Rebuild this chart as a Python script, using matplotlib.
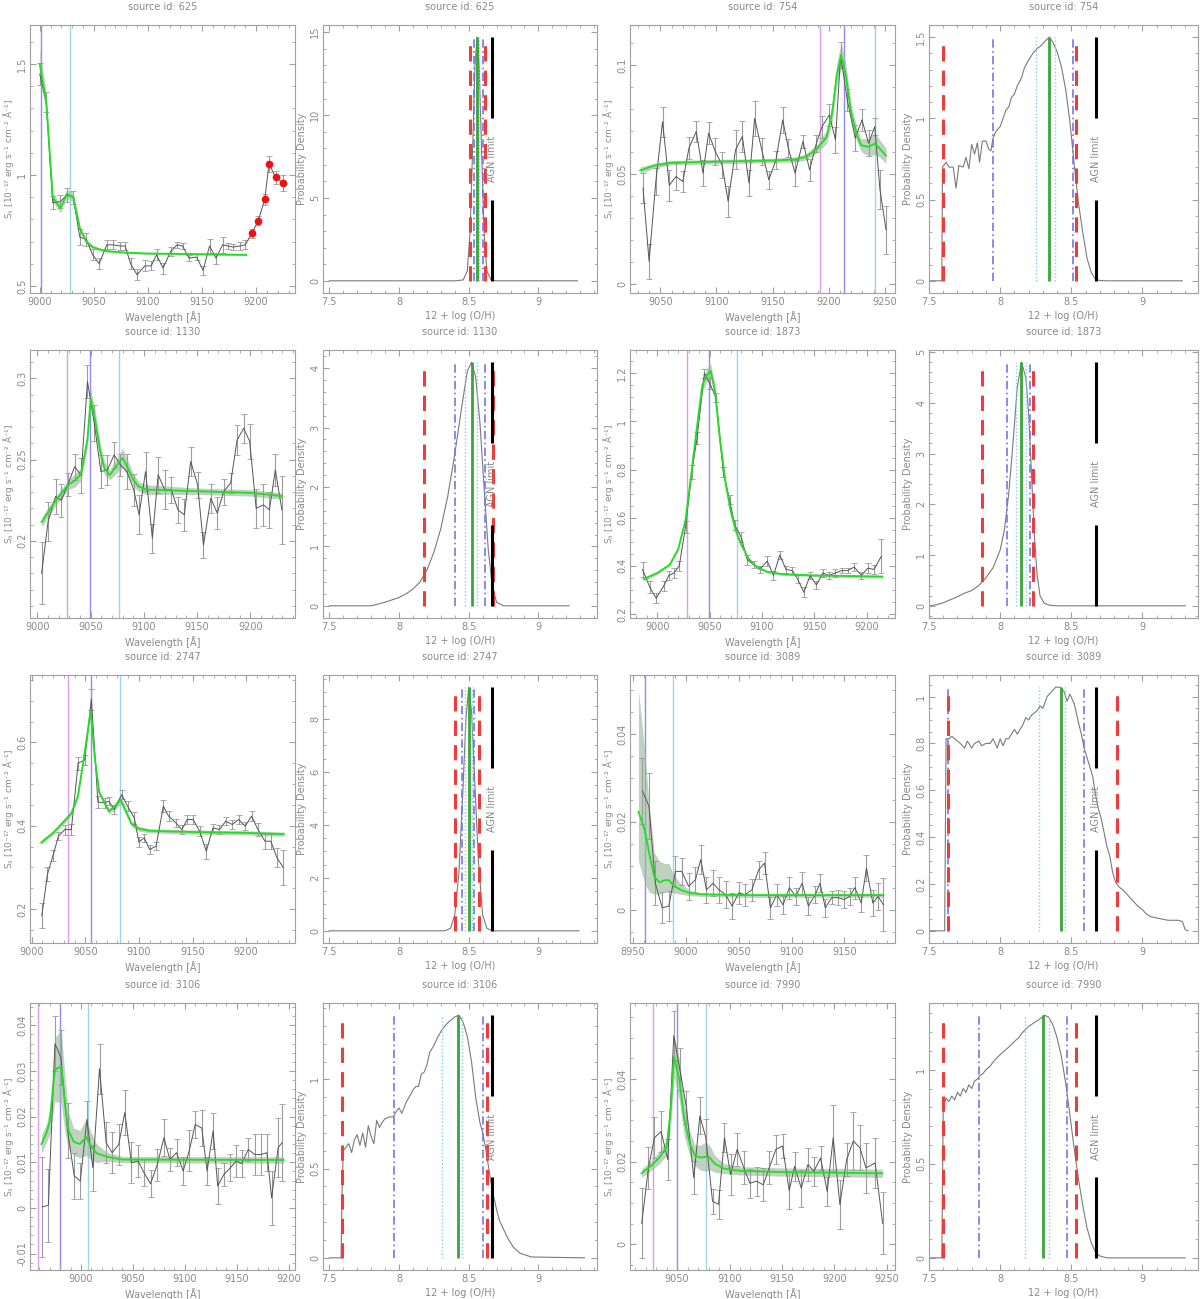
import numpy as np
import matplotlib.pyplot as plt
from matplotlib.ticker import MultipleLocator, AutoMinorLocator, FormatStrFormatter

# ---------------- source 625 ----------------
wl_625 = [9000, 9006, 9012, 9019, 9025, 9031, 9037, 9043, 9049, 9055, 9062, 9068, 9074, 9079, 9084, 9090, 9097, 9103,
          9108, 9114, 9121, 9127, 9132, 9138, 9145, 9151, 9157, 9163, 9169, 9174, 9179, 9185, 9190, 9196, 9202, 9208,
          9212, 9218, 9225]
flux_625 = [1.455, 1.33, 0.875, 0.88, 0.91, 0.90, 0.72, 0.71, 0.64, 0.60, 0.685, 0.685, 0.68, 0.68, 0.60, 0.55, 0.59,
            0.59, 0.64, 0.58, 0.655, 0.685, 0.68, 0.625, 0.63, 0.57, 0.68, 0.625, 0.685, 0.68, 0.675, 0.68, 0.685,
            0.737, 0.794, 0.89, 1.05, 0.99, 0.965]
err_625 = [0.05, 0.045, 0.03, 0.03, 0.03, 0.03, 0.035, 0.03, 0.025, 0.025, 0.02, 0.02, 0.02, 0.02, 0.025, 0.025, 0.025,
           0.02, 0.025, 0.025, 0.02, 0.015, 0.015, 0.015, 0.015, 0.02, 0.03, 0.025, 0.035, 0.015, 0.015, 0.02, 0.02,
           0.02, 0.02, 0.025, 0.035, 0.03, 0.035]
bad_625 = [33, 34, 35, 36, 37, 38]
model_wl_625 = [9000, 9006, 9012, 9019, 9025, 9031, 9037, 9043, 9049, 9055, 9062, 9080, 9100, 9150, 9191]
model_625 = [1.50, 1.33, 0.90, 0.85, 0.915, 0.90, 0.76, 0.70, 0.675, 0.665, 0.657, 0.650, 0.646, 0.643, 0.640]
band_625 = [0.07, 0.04, 0.02, 0.02, 0.02, 0.02, 0.015, 0.01, 0.008, 0.006, 0.005, 0.004, 0.004, 0.004, 0.004]
lines_625 = [None, 9001, 9028]
pdf_x_625 = [7.50, 8.40, 8.46, 8.49, 8.51, 8.53, 8.545, 8.56, 8.575, 8.59, 8.61, 8.63, 8.66, 8.70, 9.28]
pdf_y_625 = [0, 0, 0.05, 0.6, 3.0, 8.5, 13.0, 14.7, 13.0, 8.5, 3.0, 0.6, 0.05, 0, 0]
# best, dotted lo/hi, dash-dot lo/hi, dashed lo/hi
oh_625 = [8.563, 8.55, 8.575, 8.535, 8.60, 8.51, 8.615]

# ---------------- source 754 ----------------
wl_754 = [9034.6, 9040, 9046, 9052, 9058, 9064, 9070, 9075.5, 9082, 9088, 9093, 9099, 9105, 9110.4, 9117, 9123, 9129,
          9134, 9140.7, 9146.6, 9153, 9159, 9164, 9170, 9177, 9183, 9189, 9194, 9200.5, 9206, 9210.6, 9216.5, 9223.6,
          9229.6, 9235.5, 9241, 9245.6, 9251]
flux_754 = [0.0437, 0.0102, 0.0467, 0.074, 0.045, 0.049, 0.0467, 0.062, 0.0696, 0.0505, 0.0688, 0.0604, 0.0543, 0.0376,
            0.0612, 0.0673, 0.046, 0.0756, 0.0604, 0.0475, 0.0566, 0.0749, 0.062, 0.0505, 0.065, 0.052, 0.0642, 0.0718,
            0.0772, 0.0658, 0.1046, 0.084, 0.0665, 0.0749, 0.0642, 0.0718, 0.0429, 0.0247]
err_754 = [0.007, 0.008, 0.006, 0.007, 0.007, 0.006, 0.005, 0.005, 0.005, 0.006, 0.005, 0.006, 0.006, 0.007, 0.009,
           0.007, 0.006, 0.008, 0.006, 0.004, 0.004, 0.006, 0.004, 0.006, 0.003, 0.005, 0.004, 0.005, 0.005, 0.006,
           0.006, 0.005, 0.006, 0.005, 0.006, 0.004, 0.009, 0.011]
model_wl_754 = [9032, 9045, 9060, 9100, 9150, 9170, 9180, 9190, 9198, 9203, 9207, 9211, 9215, 9220, 9225, 9229, 9235,
                9241, 9245, 9251]
model_754 = [0.0518, 0.054, 0.0553, 0.0558, 0.0563, 0.0568, 0.058, 0.062, 0.067, 0.078, 0.095, 0.1045, 0.096, 0.078,
             0.068, 0.0633, 0.0625, 0.064, 0.062, 0.0585]
band_754 = [0.0015, 0.0012, 0.001, 0.001, 0.001, 0.0012, 0.0015, 0.002, 0.003, 0.004, 0.005, 0.006, 0.005, 0.004,
            0.003, 0.003, 0.004, 0.005, 0.004, 0.0035]
lines_754 = [9192.2, 9213.9, 9241.4]
pdf_x_754 = [7.50, 7.59, 7.595, 7.62, 7.64, 7.67, 7.69, 7.71, 7.74, 7.76, 7.78, 7.80, 7.82, 7.84, 7.855, 7.875, 7.90,
             7.92, 7.935, 7.95, 7.97, 8.00, 8.02, 8.04, 8.06, 8.08, 8.10, 8.12, 8.15, 8.17, 8.20, 8.23, 8.26, 8.29,
             8.32, 8.345, 8.37, 8.40, 8.43, 8.46, 8.49, 8.52, 8.55, 8.58, 8.61, 8.64, 8.67, 8.70, 8.75, 9.28]
pdf_y_754 = [0, 0, 0.70, 0.73, 0.70, 0.70, 0.57, 0.71, 0.70, 0.76, 0.69, 0.84, 0.78, 0.85, 0.73, 0.86, 0.86, 0.81,
             0.80, 0.88, 0.92, 0.95, 1.00, 1.05, 1.07, 1.13, 1.15, 1.20, 1.25, 1.31, 1.36, 1.40, 1.43, 1.45, 1.48,
             1.50, 1.47, 1.41, 1.32, 1.18, 0.98, 0.72, 0.48, 0.30, 0.14, 0.05, 0.01, 0.002, 0, 0]
oh_754 = [8.345, 8.25, 8.385, 7.95, 8.515, 7.595, 8.53]

# ---------------- source 1130 ----------------
wl_1130 = [9003.9, 9010, 9017, 9022.5, 9028.7, 9035, 9041, 9047, 9053.4, 9059.6, 9065.8, 9072, 9078, 9084, 9090.5,
           9095.5, 9101.6, 9108, 9113.4, 9119.6, 9125.8, 9132, 9138, 9144, 9150.5, 9156, 9162.9, 9169, 9175, 9181.5,
           9187.6, 9193.8, 9199.4, 9205.5, 9212.4, 9218, 9223.5, 9229.7]
flux_1130 = [0.180, 0.2119, 0.2273, 0.2248, 0.2348, 0.2457, 0.2402, 0.298, 0.2723, 0.2426, 0.2436, 0.2529, 0.2467,
             0.2426, 0.2314, 0.216, 0.2426, 0.2016, 0.2406, 0.2314, 0.2314, 0.219, 0.216, 0.2488, 0.2344, 0.1975,
             0.2262, 0.217, 0.2303, 0.2355, 0.262, 0.2693, 0.2611, 0.220, 0.2221, 0.219, 0.2436, 0.219]
err_1130 = [0.019, 0.012, 0.011, 0.01, 0.007, 0.008, 0.011, 0.01, 0.011, 0.01, 0.009, 0.008, 0.007, 0.011, 0.01, 0.012,
            0.012, 0.009, 0.011, 0.012, 0.008, 0.008, 0.01, 0.009, 0.008, 0.008, 0.009, 0.01, 0.008, 0.006, 0.009,
            0.009, 0.011, 0.012, 0.013, 0.011, 0.01, 0.021]
model_wl_1130 = [9004, 9017, 9029, 9035, 9041, 9047, 9050, 9054, 9059, 9063, 9068, 9072, 9077, 9080, 9084, 9090, 9095,
                 9102, 9150, 9200, 9230]
model_1130 = [0.2115, 0.2245, 0.2345, 0.237, 0.241, 0.2625, 0.2875, 0.275, 0.255, 0.2445, 0.2405, 0.244, 0.2485, 0.251,
              0.246, 0.2375, 0.2335, 0.2315, 0.2305, 0.2295, 0.2275]
band_1130 = [0.003, 0.003, 0.003, 0.004, 0.004, 0.005, 0.006, 0.006, 0.005, 0.004, 0.003, 0.004, 0.005, 0.006, 0.005,
             0.004, 0.003, 0.003, 0.002, 0.002, 0.002]
lines_1130 = [9027.7, 9049.4, 9076.9]
pdf_x_1130 = [7.50, 7.80, 7.85, 7.90, 7.95, 8.00, 8.05, 8.10, 8.15, 8.20, 8.25, 8.30, 8.35, 8.40, 8.45, 8.49, 8.52,
              8.55, 8.58, 8.61, 8.64, 8.67, 8.70, 8.75, 9.22]
pdf_y_1130 = [0, 0, 0.03, 0.06, 0.10, 0.14, 0.20, 0.28, 0.40, 0.60, 0.90, 1.30, 1.85, 2.55, 3.35, 3.95, 4.10, 3.85,
              3.10, 2.00, 0.95, 0.30, 0.06, 0, 0]
oh_1130 = [8.52, 8.475, 8.56, 8.40, 8.615, 8.18, 8.675]

# ---------------- source 1873 ----------------
wl_1873 = [8986, 8993, 8999, 9006, 9011, 9016, 9021, 9027, 9033, 9038, 9045, 9050, 9056, 9063, 9069, 9074, 9080, 9086,
           9092, 9098, 9105, 9111, 9117, 9123, 9129, 9134, 9140, 9146, 9152, 9158, 9164, 9170, 9176, 9182, 9188, 9195,
           9201, 9207, 9214]
flux_1873 = [0.385, 0.31, 0.265, 0.315, 0.36, 0.37, 0.40, 0.56, 0.79, 0.93, 1.20, 1.16, 1.10, 0.79, 0.675, 0.57, 0.52,
             0.425, 0.405, 0.385, 0.42, 0.36, 0.445, 0.385, 0.38, 0.345, 0.29, 0.36, 0.32, 0.37, 0.36, 0.37, 0.38,
             0.38, 0.395, 0.36, 0.39, 0.385, 0.44]
err_1873 = [0.03, 0.025, 0.02, 0.02, 0.02, 0.02, 0.02, 0.025, 0.03, 0.025, 0.02, 0.025, 0.02, 0.02, 0.02, 0.02, 0.02,
            0.02, 0.015, 0.015, 0.02, 0.02, 0.015, 0.015, 0.015, 0.015, 0.02, 0.015, 0.015, 0.015, 0.015, 0.015,
            0.012, 0.012, 0.015, 0.015, 0.02, 0.02, 0.07]
model_wl_1873 = [8987, 9000, 9012, 9020, 9027, 9033, 9038, 9043, 9047, 9051, 9055, 9060, 9065, 9070, 9075, 9080, 9087,
                 9095, 9105, 9120, 9150, 9215]
model_1873 = [0.345, 0.37, 0.405, 0.47, 0.59, 0.80, 0.98, 1.15, 1.19, 1.21, 1.13, 0.92, 0.75, 0.63, 0.545, 0.49, 0.43,
              0.395, 0.375, 0.365, 0.36, 0.355]
band_1873 = [0.008, 0.006, 0.006, 0.008, 0.01, 0.015, 0.02, 0.025, 0.03, 0.03, 0.025, 0.02, 0.015, 0.012, 0.01, 0.01,
             0.008, 0.006, 0.005, 0.005, 0.005, 0.006]
lines_1873 = [9028.2, 9049.5, 9076.5]
pdf_x_1873 = [7.50, 7.55, 7.60, 7.65, 7.70, 7.75, 7.80, 7.85, 7.90, 7.95, 8.00, 8.03, 8.06, 8.09, 8.12, 8.15, 8.18,
              8.20, 8.22, 8.24, 8.26, 8.28, 8.31, 8.35, 8.40, 9.30]
pdf_y_1873 = [0, 0.02, 0.06, 0.12, 0.18, 0.25, 0.30, 0.40, 0.55, 0.75, 1.10, 1.50, 2.20, 3.20, 4.30, 4.80, 4.50, 3.80,
              2.60, 1.40, 0.60, 0.20, 0.05, 0.01, 0, 0]
oh_1873 = [8.145, 8.11, 8.18, 8.05, 8.21, 7.87, 8.23]

# ---------------- source 2747 ----------------
wl_2747 = [9009.5, 9014.8, 9020, 9025, 9031, 9037, 9043.4, 9049.5, 9055.7, 9061.8, 9068, 9072, 9077, 9084, 9089.4,
           9095.7, 9100, 9105, 9110, 9116, 9122.8, 9127.7, 9134.5, 9140, 9145, 9150.5, 9156.6, 9162.8, 9169, 9175,
           9181, 9187, 9193, 9199, 9205, 9211, 9217.5, 9223, 9228.6, 9234.6]
flux_2747 = [0.184, 0.284, 0.329, 0.375, 0.391, 0.391, 0.55, 0.558, 0.704, 0.457, 0.455, 0.459, 0.439, 0.475, 0.447,
             0.419, 0.361, 0.371, 0.343, 0.351, 0.447, 0.423, 0.407, 0.391, 0.415, 0.415, 0.387, 0.339, 0.395, 0.391,
             0.411, 0.403, 0.415, 0.399, 0.423, 0.391, 0.363, 0.363, 0.3235, 0.2996]
err_2747 = [0.03, 0.017, 0.013, 0.01, 0.012, 0.013, 0.015, 0.012, 0.025, 0.015, 0.012, 0.01, 0.01, 0.01, 0.012, 0.015,
            0.012, 0.01, 0.01, 0.01, 0.015, 0.012, 0.01, 0.01, 0.01, 0.01, 0.012, 0.018, 0.01, 0.01, 0.01, 0.01, 0.01,
            0.01, 0.012, 0.015, 0.018, 0.018, 0.023, 0.042]
model_wl_2747 = [9009, 9020, 9030, 9037, 9043, 9048, 9055, 9059, 9063, 9068, 9072, 9077, 9083, 9087, 9093, 9100, 9110,
                 9150, 9200, 9235]
model_2747 = [0.36, 0.383, 0.41, 0.43, 0.47, 0.55, 0.675, 0.56, 0.48, 0.455, 0.435, 0.445, 0.462, 0.44, 0.405, 0.393,
              0.388, 0.385, 0.383, 0.38]
band_2747 = [0.005, 0.005, 0.006, 0.006, 0.007, 0.008, 0.01, 0.008, 0.007, 0.007, 0.007, 0.008, 0.01, 0.009, 0.007,
             0.006, 0.005, 0.005, 0.005, 0.005]
lines_2747 = [9033.8, 9055.4, 9082.8]
pdf_x_2747 = [7.50, 8.33, 8.37, 8.40, 8.43, 8.46, 8.48, 8.50, 8.52, 8.54, 8.57, 8.60, 8.63, 8.67, 9.29]
pdf_y_2747 = [0, 0, 0.1, 0.6, 2.2, 5.5, 8.0, 9.2, 8.3, 6.0, 2.6, 0.6, 0.1, 0, 0]
oh_2747 = [8.50, 8.47, 8.52, 8.45, 8.54, 8.405, 8.575]

# ---------------- source 3089 ----------------
wl_3089 = [8958.75, 8965, 8971, 8977.5, 8983.75, 8990, 8996, 9002.5, 9009, 9014, 9019.4, 9025.6, 9031.25, 9037.5,
           9043.75, 9050, 9056, 9062.5, 9068.75, 9074.4, 9080, 9086, 9091.9, 9098, 9104, 9110, 9116, 9122.5, 9127,
           9132, 9138, 9144, 9150, 9155, 9160, 9166, 9171, 9177, 9182, 9187]
flux_3089 = [0.027, 0.0235, 0.006, 0.0004, 0.0008, 0.0087, 0.0087, 0.0053, 0.0068, 0.0114, 0.0045, 0.006, 0.0045,
             0.0034, 0.0008, 0.0038, 0.0034, 0.0045, 0.009, 0.0106, 0.0004, 0.0034, 0.0011, 0.005, 0.003, 0.006,
             0.0008, 0.0034, 0.006, 0.0004, 0.0027, 0.0027, 0.0023, 0.003, 0.005, 0.0015, 0.0095, 0.0015, 0.003,
             0.0011]
err_3089 = [0.0075, 0.0075, 0.005, 0.0035, 0.0035, 0.0035, 0.003, 0.003, 0.003, 0.0033, 0.003, 0.003, 0.003, 0.003,
            0.003, 0.0025, 0.0025, 0.0025, 0.002, 0.0025, 0.0025, 0.0025, 0.002, 0.0025, 0.002, 0.0025, 0.002, 0.002,
            0.002, 0.002, 0.0015, 0.0017, 0.002, 0.002, 0.0025, 0.002, 0.003, 0.003, 0.003, 0.006]
model_wl_3089 = [8955, 8961, 8965, 8970, 8975, 8980, 8984, 8988, 8995, 9003, 9015, 9050, 9187]
model_3089 = [0.0223, 0.018, 0.013, 0.0075, 0.0062, 0.0067, 0.0067, 0.0055, 0.0045, 0.0038, 0.0035, 0.0033, 0.0033]
band_lo_3089 = [0.011, 0.006, 0.004, 0.0035, 0.0035, 0.004, 0.004, 0.0038, 0.0035, 0.0032, 0.003, 0.0028, 0.0028]
band_hi_3089 = [0.05, 0.036, 0.024, 0.013, 0.011, 0.0105, 0.0105, 0.008, 0.006, 0.0045, 0.0038, 0.0037, 0.0037]
lines_3089 = [None, 8961, 8987.5]
pdf_x_3089 = [7.50, 7.61, 7.62, 7.64, 7.66, 7.68, 7.70, 7.72, 7.75, 7.77, 7.80, 7.82, 7.85, 7.87, 7.90, 7.93, 7.95,
              7.98, 8.00, 8.02, 8.04, 8.06, 8.08, 8.10, 8.12, 8.14, 8.16, 8.18, 8.20, 8.22, 8.24, 8.26, 8.28, 8.30,
              8.33, 8.36, 8.39, 8.42, 8.45, 8.47, 8.49, 8.52, 8.55, 8.57, 8.59, 8.61, 8.63, 8.65, 8.67, 8.69, 8.71,
              8.73, 8.75, 8.77, 8.79, 8.81, 8.83, 8.85, 8.87, 8.90, 8.93, 8.96, 9.00, 9.03, 9.06, 9.10, 9.14, 9.18,
              9.22, 9.25, 9.28, 9.30, 9.32]
pdf_y_3089 = [0, 0, 0.82, 0.82, 0.83, 0.82, 0.81, 0.80, 0.78, 0.81, 0.78, 0.80, 0.81, 0.79, 0.80, 0.80, 0.82, 0.78,
              0.82, 0.79, 0.82, 0.82, 0.84, 0.86, 0.84, 0.86, 0.88, 0.91, 0.90, 0.92, 0.93, 0.94, 0.96, 0.95, 1.00,
              1.02, 1.04, 1.04, 1.02, 0.98, 1.01, 0.97, 0.89, 0.84, 0.78, 0.74, 0.70, 0.66, 0.58, 0.52, 0.48, 0.42,
              0.36, 0.32, 0.25, 0.21, 0.19, 0.18, 0.17, 0.15, 0.13, 0.11, 0.09, 0.07, 0.06, 0.055, 0.05, 0.045, 0.045,
              0.045, 0.04, 0.005, 0]
oh_3089 = [8.43, 8.27, 8.455, 7.63, 8.59, 7.63, 8.82]

# ---------------- source 3106 ----------------
wl_3106 = [8962.9, 8968.7, 8975, 8980.8, 8987.2, 8993.6, 8999.4, 9005.75, 9011.5, 9017.9, 9024.3, 9030, 9036.4, 9042.2,
           9048.6, 9055, 9060.7, 9067, 9073.5, 9079.9, 9085.6, 9092, 9098.4, 9104.2, 9110, 9116.3, 9121.4, 9127.2,
           9131.6, 9137.4, 9143.8, 9149.5, 9154.6, 9161, 9167.4, 9173.2, 9179, 9183.5, 9189.8, 9193.6]
flux_3106 = [0.0002, 0.0006, 0.036, 0.0329, 0.0169, 0.007, 0.0059, 0.0194, 0.0088, 0.0305, 0.0143, 0.0121, 0.0139,
             0.0209, 0.0099, 0.0103, 0.0077, 0.0053, 0.0095, 0.0154, 0.0106, 0.0121, 0.0081, 0.0125, 0.0183, 0.0175,
             0.0081, 0.0169, 0.0048, 0.0073, 0.0088, 0.0103, 0.0097, 0.0128, 0.0117, 0.0117, 0.0121, 0.0022, 0.0132,
             0.0143]
err_3106 = [0.011, 0.008, 0.006, 0.006, 0.006, 0.005, 0.004, 0.004, 0.005, 0.0055, 0.0045, 0.0045, 0.0045, 0.005,
            0.0045, 0.0035, 0.003, 0.003, 0.0035, 0.004, 0.0025, 0.003, 0.003, 0.0045, 0.003, 0.004, 0.003, 0.004,
            0.004, 0.0025, 0.003, 0.0035, 0.003, 0.0025, 0.0045, 0.0045, 0.004, 0.006, 0.0065, 0.0085]
model_wl_3106 = [8962, 8967, 8970, 8975, 8981, 8985, 8988, 8993, 8999, 9005, 9010, 9015, 9025, 9040, 9195]
model_3106 = [0.014, 0.0165, 0.019, 0.0303, 0.031, 0.022, 0.017, 0.0145, 0.014, 0.0155, 0.0135, 0.012, 0.0112, 0.0106,
              0.0105]
band_3106 = [0.002, 0.002, 0.003, 0.007, 0.008, 0.006, 0.004, 0.003, 0.003, 0.004, 0.003, 0.002, 0.001, 0.0007, 0.0007]
lines_3106 = [8958.4, 8979.5, 9006.4]
pdf_x_3106 = [7.50, 7.585, 7.59, 7.60, 7.64, 7.66, 7.68, 7.70, 7.72, 7.74, 7.76, 7.78, 7.80, 7.82, 7.84, 7.86, 7.88,
              7.90, 7.93, 7.96, 7.98, 8.00, 8.02, 8.05, 8.08, 8.10, 8.12, 8.14, 8.16, 8.18, 8.20, 8.22, 8.25, 8.28,
              8.31, 8.34, 8.37, 8.40, 8.43, 8.46, 8.49, 8.52, 8.55, 8.58, 8.60, 8.62, 8.64, 8.66, 8.68, 8.70, 8.72,
              8.75, 8.78, 8.82, 8.87, 8.95, 9.33]
pdf_y_3106 = [0, 0, 0.30, 0.60, 0.64, 0.59, 0.66, 0.69, 0.63, 0.70, 0.62, 0.74, 0.68, 0.64, 0.77, 0.73, 0.76, 0.78,
              0.79, 0.79, 0.82, 0.84, 0.81, 0.87, 0.91, 0.94, 0.96, 0.96, 1.03, 1.04, 1.08, 1.15, 1.19, 1.24, 1.28,
              1.31, 1.33, 1.35, 1.36, 1.32, 1.24, 1.10, 0.90, 0.76, 0.70, 0.62, 0.52, 0.42, 0.34, 0.27, 0.21, 0.16,
              0.11, 0.06, 0.025, 0.005, 0]
oh_3106 = [8.42, 8.306, 8.455, 7.964, 8.60, 7.59, 8.63]

# ---------------- source 7990 ----------------
wl_7990 = [9016.2, 9022.6, 9028.3, 9034.7, 9041.1, 9046.8, 9052.5, 9058.9, 9065.9, 9071.7, 9077.4, 9083.8, 9089.5,
           9095.2, 9101, 9107.3, 9113.7, 9119.4, 9125.8, 9132.2, 9137.9, 9144.3, 9150.6, 9157, 9162.1, 9168.5,
           9174.8, 9180.6, 9186.9, 9193.3, 9199, 9205.4, 9211.8, 9218.2, 9224.5, 9230.3, 9239, 9246.2]
flux_7990 = [0.0051, 0.0185, 0.0258, 0.0273, 0.0205, 0.0505, 0.0424, 0.0331, 0.0161, 0.0311, 0.0258, 0.0104, 0.0097,
             0.0258, 0.0169, 0.023, 0.0185, 0.0148, 0.0153, 0.0144, 0.0185, 0.023, 0.0238, 0.013, 0.0189, 0.0136,
             0.0193, 0.0177, 0.0209, 0.0128, 0.0258, 0.0096, 0.0205, 0.025, 0.0234, 0.0185, 0.0197, 0.0051]
err_7990 = [0.0085, 0.005, 0.005, 0.005, 0.005, 0.006, 0.005, 0.004, 0.004, 0.0045, 0.0045, 0.003, 0.0035, 0.0035,
            0.005, 0.004, 0.004, 0.0035, 0.0035, 0.004, 0.004, 0.0035, 0.003, 0.0045, 0.0035, 0.0045, 0.004, 0.0035,
            0.003, 0.0035, 0.008, 0.006, 0.004, 0.007, 0.0055, 0.006, 0.006, 0.0075]
model_wl_7990 = [9016, 9025, 9033, 9040, 9044, 9047, 9052, 9057, 9062, 9067, 9072, 9077, 9081, 9086, 9095, 9110, 9150,
                 9246]
model_7990 = [0.0172, 0.019, 0.021, 0.0235, 0.033, 0.0455, 0.040, 0.030, 0.0245, 0.0215, 0.021, 0.0212, 0.021, 0.0195,
              0.0183, 0.0178, 0.0175, 0.0172]
band_7990 = [0.001, 0.0012, 0.0015, 0.002, 0.004, 0.005, 0.005, 0.004, 0.003, 0.0025, 0.003, 0.0035, 0.003, 0.002,
             0.0012, 0.001, 0.001, 0.001]
lines_7990 = [9027.4, 9050, 9077.4]
pdf_x_7990 = [7.50, 7.59, 7.60, 7.62, 7.64, 7.66, 7.68, 7.70, 7.72, 7.74, 7.76, 7.78, 7.80, 7.82, 7.84, 7.86, 7.88,
              7.90, 7.93, 7.96, 8.00, 8.03, 8.06, 8.10, 8.13, 8.16, 8.20, 8.24, 8.28, 8.31, 8.34, 8.37, 8.40, 8.43,
              8.46, 8.49, 8.52, 8.55, 8.58, 8.61, 8.64, 8.67, 8.70, 8.75, 9.30]
pdf_y_7990 = [0, 0, 0.80, 0.85, 0.83, 0.86, 0.84, 0.88, 0.86, 0.90, 0.88, 0.92, 0.90, 0.94, 0.95, 0.97, 0.98, 1.00,
              1.02, 1.05, 1.08, 1.10, 1.12, 1.15, 1.17, 1.20, 1.23, 1.25, 1.27, 1.29, 1.28, 1.24, 1.17, 1.07, 0.93,
              0.76, 0.58, 0.42, 0.28, 0.16, 0.08, 0.03, 0.01, 0, 0]
oh_7990 = [8.30, 8.175, 8.345, 7.85, 8.47, 7.60, 8.535]

agn_limit = 8.67

source_ids = [625, 754, 1130, 1873, 2747, 3089, 3106, 7990]
spec_xlim = [(8991, 9236), (9023, 9259), (8993, 9242), (8974, 9227),
             (8998.5, 9245.5), (8947, 9198), (8951, 9206), (9005, 9258)]
spec_ylim = [(0.468, 1.676), (-0.0043, 0.1183), (0.1525, 0.3174), (0.183, 1.297),
             (0.1187, 0.7618), (-0.0076, 0.0534), (-0.0136, 0.0449), (-0.0062, 0.0584)]
spec_ystep = [0.5, 0.05, 0.05, 0.2, 0.2, 0.02, 0.01, 0.02]
pdf_ystep = [5, 0.5, 1, 1, 2, 0.2, 0.5, 0.5]

GREY = '#8a8a8a'
LINE_COLS = ['#dc9ee8', '#8e8ef0', '#9fd3f0']
SPEC_YLABEL = 'S$_\\lambda$ [10⁻¹⁷ erg s⁻¹ cm⁻² Å⁻¹]'

# pixel layout of the 4x4 grid (image is 1200 x 1299)
W, H = 1200, 1299
cols = [(30, 295), (323, 597), (630, 895), (929, 1198)]
rows = [(25, 293), (350, 618), (675, 943), (1003, 1270)]
pdf_xlim = [(7.455, 9.42), (7.5, 9.39)]


def style_axes(ax, ystep, xstep, xminor):
    for s in ax.spines.values():
        s.set_color('#a0a0a0')
        s.set_linewidth(0.8)
    ax.tick_params(which='both', direction='in', top=True, right=True, colors='#a0a0a0',
                   labelcolor=GREY, labelsize=7)
    ax.tick_params(which='major', length=4)
    ax.tick_params(which='minor', length=2)
    ax.tick_params(axis='x', pad=3)
    ax.tick_params(axis='y', pad=2)
    ax.xaxis.set_major_locator(MultipleLocator(xstep))
    ax.xaxis.set_minor_locator(MultipleLocator(xminor))
    ax.yaxis.set_major_locator(MultipleLocator(ystep))
    ax.yaxis.set_minor_locator(AutoMinorLocator())
    ax.xaxis.set_major_formatter(FormatStrFormatter('%g'))
    ax.yaxis.set_major_formatter(FormatStrFormatter('%g'))
    for lab in ax.get_yticklabels():
        lab.set_rotation(90)
        lab.set_va('center')


def draw_spectrum(ax, sid, wl, flux, err, mwl, model, lo, hi, lines, xlim, ylim, ystep, bad=None):
    for x, c in zip(lines, LINE_COLS):
        if x is not None:
            ax.axvline(x, color=c, lw=1.0, zorder=1)
    ax.fill_between(mwl, lo, hi, color='#9dba9d', alpha=0.65, lw=0, zorder=2)
    ax.errorbar(wl, flux, yerr=err, fmt='none', ecolor='#9c9c9c', elinewidth=0.8,
                capsize=2, capthick=0.6, zorder=3)
    ax.plot(wl, flux, color='#555555', lw=0.7, zorder=4)
    if bad is not None:
        ax.plot([wl[i] for i in bad], [flux[i] for i in bad], 'o', color='#ee1111', ms=4.5, zorder=6)
    ax.plot(mwl, model, color='#22dd22', lw=1.3, zorder=5)
    ax.set_xlim(*xlim)
    ax.set_ylim(*ylim)
    style_axes(ax, ystep, 50, 10)
    ax.set_title(f'source id: {sid}', fontsize=7, color=GREY, pad=11)
    ax.set_xlabel('Wavelength [Å]', fontsize=7, color=GREY, labelpad=3)
    ax.set_ylabel(SPEC_YLABEL, fontsize=6.5, color=GREY, labelpad=1)


def draw_pdf(ax, sid, x, y, oh, xlim, ystep):
    peak = max(y)
    ax.plot(x, y, color='#7a7a7a', lw=0.8, zorder=2)
    best, c_lo, c_hi, b_lo, b_hi, r_lo, r_hi = oh
    ax.vlines([c_lo, c_hi], 0, peak, colors='#7fcff5', linestyles=(0, (1, 1.5)), lw=1.0, zorder=3)
    ax.vlines(best, 0, peak, colors='#3aa53a', lw=2.0, zorder=4)
    ax.vlines([b_lo, b_hi], 0, peak, colors='#7474ee', linestyles=(0, (5, 2, 1, 2)), lw=1.2, zorder=5)
    ax.vlines([r_lo, r_hi], 0, peak, colors='#ee3b3b', linestyles=(0, (5, 3)), lw=2.2, zorder=6)
    ax.vlines(agn_limit, 0, peak / 3, colors='black', lw=2.2, zorder=7)
    ax.vlines(agn_limit, 2 * peak / 3, peak, colors='black', lw=2.2, zorder=7)
    ax.text(agn_limit, peak / 2, 'AGN limit', rotation=90, ha='center', va='center',
            fontsize=7, color=GREY, zorder=8)
    ax.set_xlim(*xlim)
    ax.set_ylim(-0.05 * peak, 1.05 * peak)
    style_axes(ax, ystep, 0.5, 0.1)
    ax.set_title(f'source id: {sid}', fontsize=7, color=GREY, pad=11)
    ax.set_xlabel('12 + log (O/H)', fontsize=7, color=GREY, labelpad=3)
    ax.set_ylabel('Probability Density', fontsize=7, color=GREY, labelpad=2)


spectra = [
    (wl_625, flux_625, err_625, model_wl_625, model_625, band_625, lines_625),
    (wl_754, flux_754, err_754, model_wl_754, model_754, band_754, lines_754),
    (wl_1130, flux_1130, err_1130, model_wl_1130, model_1130, band_1130, lines_1130),
    (wl_1873, flux_1873, err_1873, model_wl_1873, model_1873, band_1873, lines_1873),
    (wl_2747, flux_2747, err_2747, model_wl_2747, model_2747, band_2747, lines_2747),
    (wl_3089, flux_3089, err_3089, model_wl_3089, model_3089, None, lines_3089),
    (wl_3106, flux_3106, err_3106, model_wl_3106, model_3106, band_3106, lines_3106),
    (wl_7990, flux_7990, err_7990, model_wl_7990, model_7990, band_7990, lines_7990),
]
pdfs = [(pdf_x_625, pdf_y_625, oh_625), (pdf_x_754, pdf_y_754, oh_754),
        (pdf_x_1130, pdf_y_1130, oh_1130), (pdf_x_1873, pdf_y_1873, oh_1873),
        (pdf_x_2747, pdf_y_2747, oh_2747), (pdf_x_3089, pdf_y_3089, oh_3089),
        (pdf_x_3106, pdf_y_3106, oh_3106), (pdf_x_7990, pdf_y_7990, oh_7990)]

fig = plt.figure(figsize=(12, 12.99), dpi=100)


def make_ax(col, row):
    (x0, x1), (y0, y1) = cols[col], rows[row]
    return fig.add_axes([x0 / W, 1 - y1 / H, (x1 - x0) / W, (y1 - y0) / H])


for k, sid in enumerate(source_ids):
    row, half = k // 2, k % 2
    wl, flux, err, mwl, model, band, lines = spectra[k]
    if band is None:
        lo, hi = band_lo_3089, band_hi_3089
    else:
        lo = np.array(model) - np.array(band)
        hi = np.array(model) + np.array(band)
    ax = make_ax(2 * half, row)
    draw_spectrum(ax, sid, wl, flux, err, mwl, model, lo, hi, lines,
                  spec_xlim[k], spec_ylim[k], spec_ystep[k], bad=bad_625 if sid == 625 else None)
    px, py, oh = pdfs[k]
    ax2 = make_ax(2 * half + 1, row)
    draw_pdf(ax2, sid, px, py, oh, pdf_xlim[half], pdf_ystep[k])

fig.savefig('out.png', dpi=100)
